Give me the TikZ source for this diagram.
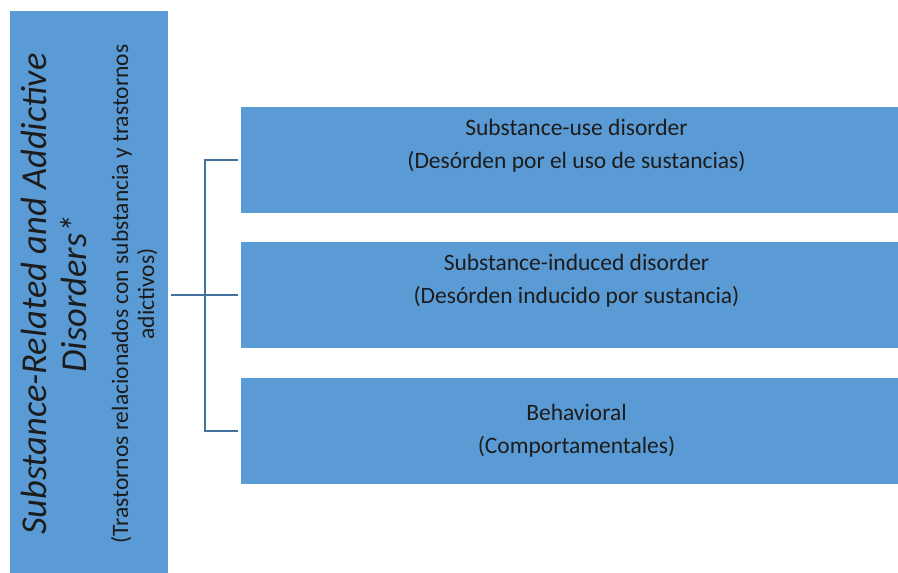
\documentclass[tikz,border=0pt]{standalone}
\usepackage{fontspec}
\setmainfont{Carlito}
\usepackage{graphicx}
\usetikzlibrary{positioning,calc}
\definecolor{sdblue}{HTML}{5B9BD5}
\definecolor{sdline}{HTML}{41719C}
\definecolor{sdtext}{HTML}{1C1C1C}

\begin{document}
\begin{tikzpicture}[x=1pt,y=-1pt,node distance=29pt]
    \tikzset{groupbox/.style={fill=sdblue,minimum width=158pt,minimum height=566pt,inner sep=0pt,text=sdtext},
      itembox/.style={fill=sdblue,minimum width=671pt,minimum height=106pt,align=center,text=sdtext,font=\fontsize{23.5}{33}\selectfont},
      link/.style={draw=sdline,line width=2pt,shorten <=3pt,shorten >=3pt}}
    \useasboundingbox (0,0) rectangle (898,573);
    \node[groupbox] (group) at (89,294) {\rotatebox{90}{\parbox{540pt}{\centering
      \fontsize{36.5}{40}\selectfont\itshape Substance-Related and Addictive\\Disorders*\par
      \vspace{16pt}\fontsize{23.5}{26}\selectfont\upshape (Trastornos relacionados con substancia y trastornos\\adictivos)\par}}};
    \node[itembox] (use) at (576.5,160) {Substance-use disorder\\(Desórden por el uso de sustancias)\\\mbox{}};
    \node[itembox,below=of use] (induced) {Substance-induced disorder\\(Desórden inducido por sustancia)\\\mbox{}};
    \node[itembox,below=of induced] (behav) {Behavioral\\(Comportamentales)};
    \coordinate (hub) at ($(group.east)!.5!(induced.west)$);
    \draw[link] (use.west) -| (hub |- behav.west) -- (behav.west);
    \draw[link] (group.east |- induced.west) -- (induced.west);
  \end{tikzpicture}
\end{document}
